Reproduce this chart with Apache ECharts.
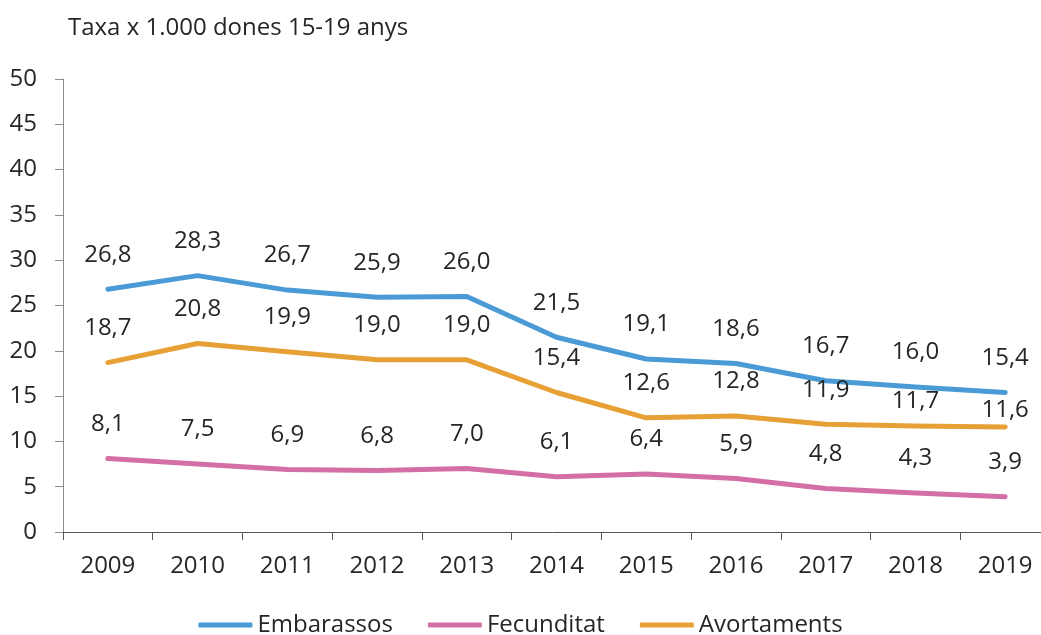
<!DOCTYPE html>
<html>
<head>
<meta charset="utf-8">
<script src="https://cdn.jsdelivr.net/npm/echarts@6/dist/echarts.min.js"></script>
<style>
html,body{margin:0;padding:0;background:#fff;}
#c{width:1041px;height:635px;}
</style>
</head>
<body>
<div id="c"></div>
<script>
var years = ['2009','2010','2011','2012','2013','2014','2015','2016','2017','2018','2019'];
var embarassos = [26.8, 28.3, 26.7, 25.9, 26.0, 21.5, 19.1, 18.6, 16.7, 16.0, 15.4];
var fecunditat = [8.1, 7.5, 6.9, 6.8, 7.0, 6.1, 6.4, 5.9, 4.8, 4.3, 3.9];
var avortaments = [18.7, 20.8, 19.9, 19.0, 19.0, 15.4, 12.6, 12.8, 11.9, 11.7, 11.6];
var seriesNames = ['Embarassos', 'Fecunditat', 'Avortaments'];
var yTitle = 'Taxa x 1.000 dones 15-19 anys';

var FONT = '"Open Sans", "Noto Sans", sans-serif';
var FS = 24;
var colors = ['#4A9AD5', '#D46FA6', '#E7A035'];

function fmt(p){ return Number(p.value).toFixed(1).replace('.', ','); }

function mkSeries(name, data, color, special){
  return {
    name: name,
    type: 'line',
    data: data.map(function(v, i){
      if (special && special[i] !== undefined) {
        return { value: v, label: { distance: special[i] } };
      }
      return v;
    }),
    symbol: 'circle',
    symbolSize: 1,
    showSymbol: true,
    itemStyle: { color: color },
    color: color,
    lineStyle: { width: 5, color: color, cap: 'round', join: 'round' },
    label: {
      show: true, position: 'top', distance: 21,
      formatter: fmt,
      fontFamily: FONT, fontSize: FS, color: '#262626', lineHeight: 26
    },
    emphasis: { disabled: true },
    z: 3
  };
}

var chart = echarts.init(document.getElementById('c'), null, {renderer: 'canvas'});
chart.setOption({
  animation: false,
  backgroundColor: '#ffffff',
  textStyle: { fontFamily: FONT },
  grid: { left: 63, right: -9, top: 79, bottom: 103, containLabel: false, outerBoundsMode: 'none' },
  title: {
    text: yTitle, left: 63, top: 11,
    textStyle: { fontFamily: FONT, fontSize: FS, fontWeight: 'normal', color: '#262626' }
  },
  legend: {
    bottom: -2, left: 'center', padding: 0,
    itemWidth: 54, itemHeight: 5, itemGap: 35,
    icon: 'roundRect',
    textStyle: { fontFamily: FONT, fontSize: FS, color: '#262626' },
    data: seriesNames
  },
  xAxis: {
    type: 'category', data: years, boundaryGap: true,
    axisLine: { show: true, lineStyle: { color: '#595959', width: 1 } },
    axisTick: { show: true, length: 8, lineStyle: { color: '#595959' } },
    axisLabel: { margin: 22, fontFamily: FONT, fontSize: FS, color: '#262626' },
    splitLine: { show: false }
  },
  yAxis: {
    type: 'value', min: 0, max: 50, interval: 5,
    axisLine: { show: true, lineStyle: { color: '#8c8c8c', width: 1 } },
    axisTick: { show: true, length: 8, lineStyle: { color: '#8c8c8c' } },
    axisLabel: { margin: 26, fontFamily: FONT, fontSize: FS, color: '#262626' },
    splitLine: { show: false }
  },
  series: [
    mkSeries(seriesNames[0], embarassos, colors[0]),
    mkSeries(seriesNames[1], fecunditat, colors[1]),
    mkSeries(seriesNames[2], avortaments, colors[2], {9: 11, 10: 3})
  ]
});
</script>
</body>
</html>
